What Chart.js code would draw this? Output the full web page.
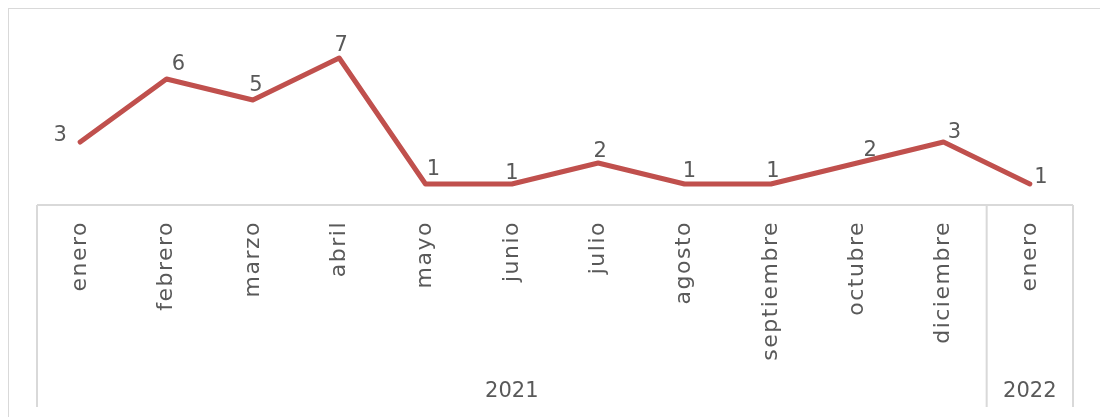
<!DOCTYPE html>
<html>
<head>
<meta charset="utf-8">
<script src="https://cdn.jsdelivr.net/npm/chart.js@4.4.1/dist/chart.umd.min.js"></script>
<style>
  html, body { margin: 0; padding: 0; background: #fff; }
  #wrap { position: relative; width: 1100px; height: 417px; overflow: hidden; }
  #frame { position: absolute; left: 8px; top: 8px; width: 1100px; height: 430px; border: 1px solid #d9d9d9; box-sizing: border-box; }
  #chart { position: absolute; left: 0; top: 0; }
</style>
</head>
<body>
<div id="wrap">
  <div id="frame"></div>
  <canvas id="chart" width="1100" height="417"></canvas>
</div>
<script>
const months = ['enero', 'febrero', 'marzo', 'abril', 'mayo', 'junio', 'julio', 'agosto', 'septiembre', 'octubre', 'diciembre', 'enero'];
const values = [3, 6, 5, 7, 1, 1, 2, 1, 1, 2, 3, 1];
const years = ['2021', '2022'];
const yearCounts = [11, 1];

const FONT = '"DejaVu Sans", sans-serif';
const TEXT = '#595959';
const GRID = '#d9d9d9';

// label offsets from each point (dx, dy), roughly where excel put them
const labelOffsets = [[-20, -6], [12, -14], [3, -14], [2, -12], [8, -14], [0, -10], [2, -11], [5, -12], [2, -12], [13, -12], [11, -9], [11, -6]];

// wider text so the month names come closer to the original font
const spacing = {
  id: 'spacing',
  beforeDraw(chart) { chart.ctx.letterSpacing = '1.5px'; }
};

const groupAxis = {
  id: 'groupAxis',
  afterDraw(chart) {
    const ctx = chart.ctx;
    const x = chart.scales.x;
    const area = chart.chartArea;
    const bottom = 407;
    const step = (x.right - x.left) / months.length;

    ctx.save();
    ctx.letterSpacing = '0px';
    ctx.strokeStyle = GRID;
    ctx.lineWidth = 2;
    ctx.beginPath();
    ctx.moveTo(x.left, area.bottom);
    ctx.lineTo(x.right, area.bottom);
    let idx = 0;
    const edges = [x.left];
    yearCounts.forEach(n => { idx += n; edges.push(x.left + idx * step); });
    edges.forEach(e => {
      ctx.moveTo(e, area.bottom);
      ctx.lineTo(e, bottom);
    });
    ctx.stroke();

    ctx.fillStyle = TEXT;
    ctx.font = '21px ' + FONT;
    ctx.textAlign = 'center';
    ctx.textBaseline = 'middle';
    years.forEach((y, i) => {
      ctx.fillText(y, (edges[i] + edges[i + 1]) / 2, 392);
    });
    ctx.restore();
  }
};

const pointLabels = {
  id: 'pointLabels',
  afterDatasetsDraw(chart) {
    const ctx = chart.ctx;
    const meta = chart.getDatasetMeta(0);
    ctx.save();
    ctx.letterSpacing = '0px';
    ctx.fillStyle = TEXT;
    ctx.font = '21px ' + FONT;
    ctx.textAlign = 'center';
    ctx.textBaseline = 'middle';
    meta.data.forEach((pt, i) => {
      const off = labelOffsets[i];
      ctx.fillText(String(values[i]), pt.x + off[0], pt.y + off[1]);
    });
    ctx.restore();
  }
};

new Chart(document.getElementById('chart').getContext('2d'), {
  type: 'line',
  plugins: [spacing, groupAxis, pointLabels],
  data: {
    labels: months,
    datasets: [{
      data: values,
      borderColor: '#c0504d',
      borderWidth: 5,
      borderCapStyle: 'round',
      borderJoinStyle: 'round',
      pointRadius: 0,
      tension: 0,
      fill: false
    }]
  },
  options: {
    responsive: false,
    animation: false,
    layout: { padding: { left: 37, right: 27, top: 37, bottom: 0 } },
    plugins: {
      legend: { display: false },
      tooltip: { enabled: false }
    },
    scales: {
      y: {
        display: false,
        min: 0,
        max: 8
      },
      x: {
        offset: true,
        grid: { display: false, drawTicks: false },
        border: { display: false },
        afterFit(scale) { scale.height = 212; },
        ticks: {
          color: TEXT,
          font: { family: FONT, size: 22 },
          minRotation: 90,
          maxRotation: 90,
          autoSkip: false,
          padding: 16
        }
      }
    }
  }
});
</script>
</body>
</html>
